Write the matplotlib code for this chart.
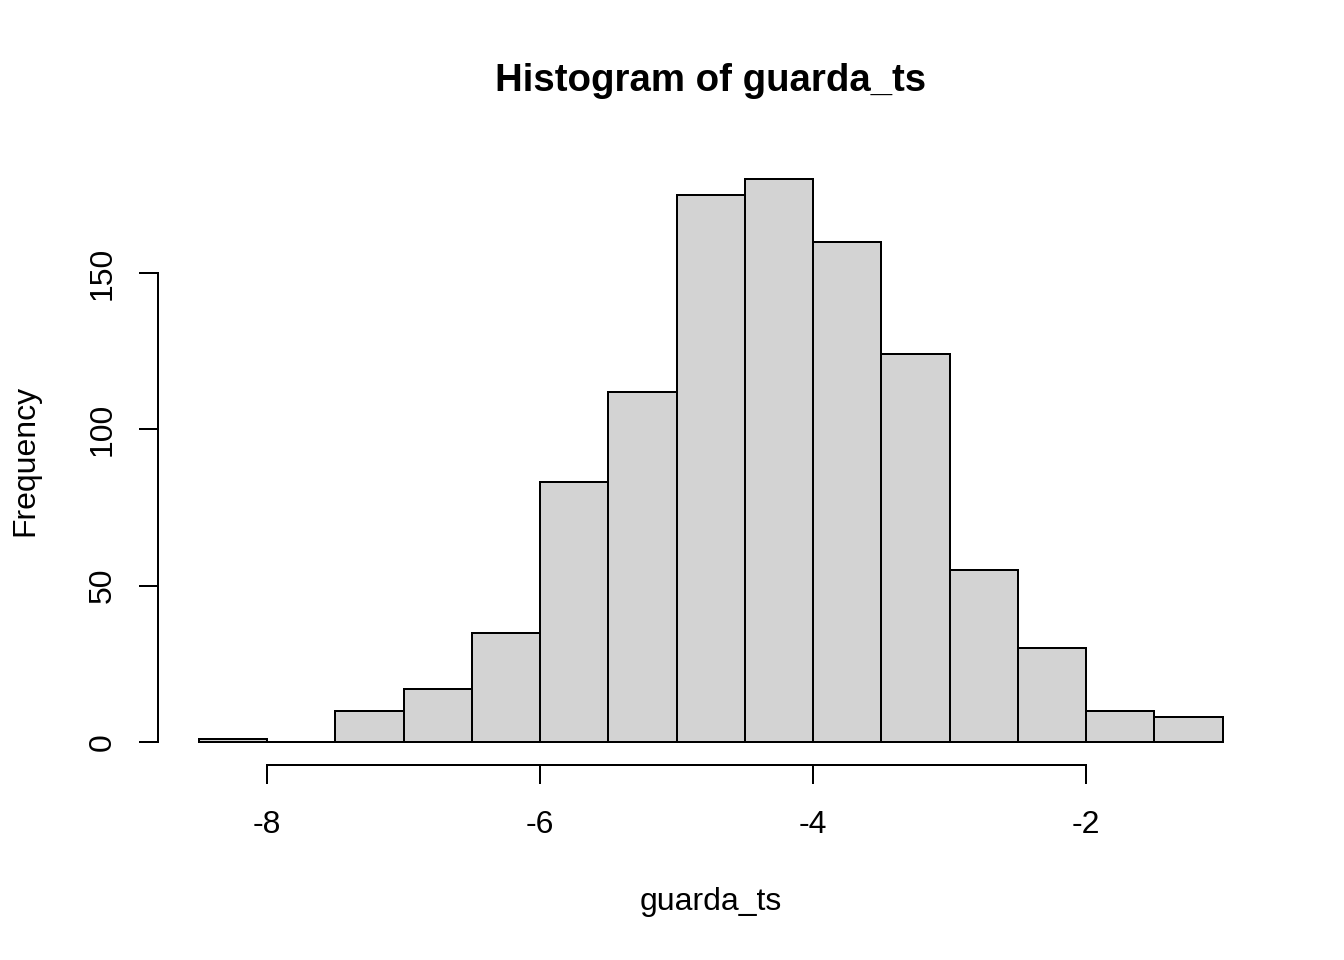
import matplotlib
matplotlib.use("Agg")
import matplotlib.pyplot as plt
import numpy as np

plt.rcParams['font.family'] = ['Liberation Sans', 'DejaVu Sans']

bin_edges = [-8.5, -8.0, -7.5, -7.0, -6.5, -6.0, -5.5, -5.0, -4.5, -4.0,
             -3.5, -3.0, -2.5, -2.0, -1.5, -1.0]
counts = [1, 0, 10, 17, 35, 83, 112, 175, 180, 160, 124, 55, 30, 10, 8]
x_ticks = [-8, -6, -4, -2]
y_ticks = [0, 50, 100, 150]
title = "Histogram of guarda_ts"
xlabel = "guarda_ts"
ylabel = "Frequency"

W, H = 1344, 960
fig = plt.figure(figsize=(7, 5), dpi=192)
left, right = 157.8 / W, 1263.5 / W
bottom, top = 1 - 764.5 / H, 1 - 156.6 / H
ax = fig.add_axes([left, bottom, right - left, top - bottom])

edges = np.array(bin_edges)
ax.bar(edges[:-1], counts, width=np.diff(edges), align='edge',
       color='#d3d3d3', edgecolor='black', linewidth=0.75)

ax.set_xlim(-8.8, -0.7)
ax.set_ylim(-7.2, 187.2)

for s in ['top', 'right']:
    ax.spines[s].set_visible(False)
ax.spines['left'].set_bounds(0, 150)
ax.spines['bottom'].set_bounds(-8, -2)
ax.spines['left'].set_linewidth(0.75)
ax.spines['bottom'].set_linewidth(0.75)

ax.set_xticks(x_ticks)
ax.set_xticklabels([str(t) for t in x_ticks])
ax.set_yticks(y_ticks)
ax.set_yticklabels([str(t) for t in y_ticks], rotation=90, va='center')
ax.tick_params(axis='both', length=7.2, width=0.75, labelsize=12, direction='out')
ax.tick_params(axis='x', pad=9.8)
ax.tick_params(axis='y', pad=8)

ax.set_xlabel(xlabel, fontsize=12)
ax.xaxis.set_label_coords(0.5, (764.5 - 902) / 607.9)
ax.xaxis.label.set_va('center')
ax.set_ylabel(ylabel, fontsize=12)
ax.yaxis.set_label_coords((25 - 157.8) / 1105.7, 0.5)
ax.yaxis.label.set_va('center')

ax.text(0.5, (764.5 - 81.5) / 607.9, title, transform=ax.transAxes,
        ha='center', va='center', fontsize=14.4, fontweight='bold')

fig.savefig("out.png", dpi=192)
